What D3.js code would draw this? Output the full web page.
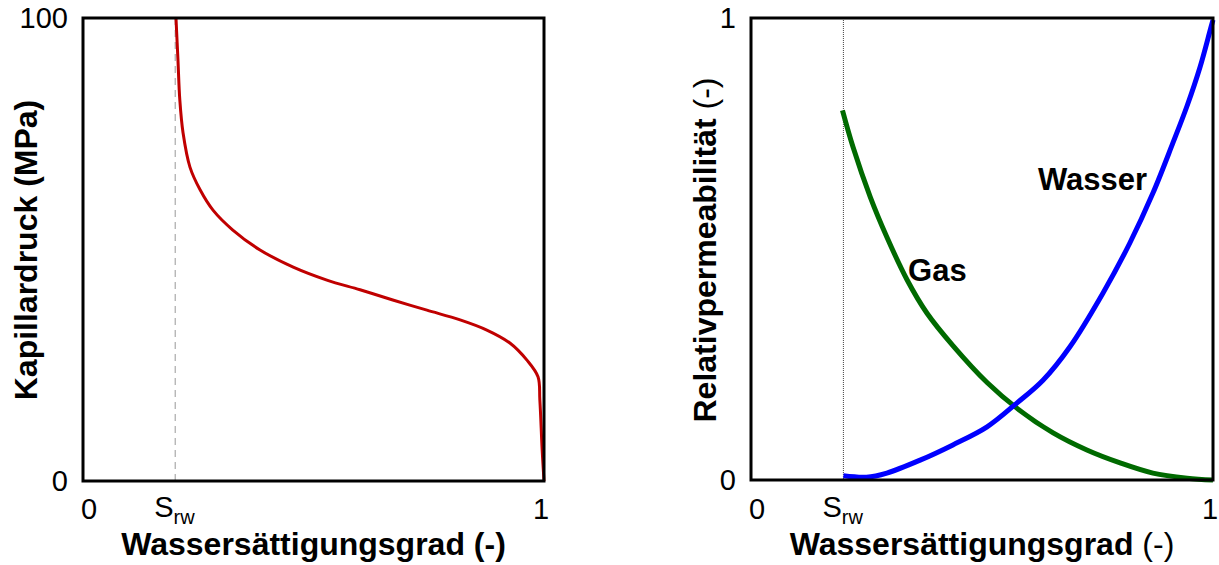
<!DOCTYPE html>
<html>
<head>
<meta charset="utf-8">
<script src="https://cdn.jsdelivr.net/npm/d3@7"></script>
<style>
  html, body { margin: 0; padding: 0; background: #fff; }
  text { font-family: "Liberation Sans", Arial, sans-serif; fill: #000; }
</style>
</head>
<body>
<svg id="chart" width="1219" height="565"></svg>
<script>
// residual water saturation
const srw = 0.2;

// capillary pressure curve (left)
const capSw = [0.2017, 0.206, 0.21, 0.217, 0.232, 0.254, 0.282, 0.325, 0.384, 0.456, 0.529, 0.601, 0.672, 0.746, 0.818, 0.876, 0.926, 0.963, 0.987, 0.991, 0.996, 1.0];
const capPc = [100, 90.9, 82.3, 75.2, 67.8, 62.9, 58.5, 54.2, 49.9, 46.2, 43.4, 41.3, 39.1, 36.9, 34.8, 32.6, 29.8, 26.1, 22.5, 17.5, 6.7, 0];

// relative permeability curves (right)
const gasSw = [0.198, 0.221, 0.258, 0.294, 0.338, 0.381, 0.437, 0.511, 0.576, 0.654, 0.727, 0.799, 0.870, 0.944, 1.0];
const gasKr = [0.80, 0.72, 0.613, 0.526, 0.433, 0.361, 0.291, 0.211, 0.155, 0.102, 0.065, 0.037, 0.015, 0.004, 0.0];
const waterSw = [0.2, 0.25, 0.294, 0.366, 0.437, 0.511, 0.576, 0.632, 0.69, 0.762, 0.820, 0.870, 0.913, 0.944, 0.972, 0.994, 1.0];
const waterKr = [0.009, 0.006, 0.015, 0.043, 0.076, 0.115, 0.167, 0.216, 0.288, 0.405, 0.513, 0.621, 0.729, 0.81, 0.894, 0.974, 0.996];

// tick labels
const leftYTicks = [[0, '0'], [100, '100']];
const rightYTicks = [[0, '0'], [1, '1']];
const xTicks = [[0, '0'], [1, '1']];

const svg = d3.select('#chart');

function panel(box, yMax, yTicks, yTitle, yTitleExtra, xTitleBold) {
  const x = d3.scaleLinear().domain([0, 1]).range([box.x0, box.x1]);
  const y = d3.scaleLinear().domain([0, yMax]).range([box.y1, box.y0]);
  const g = svg.append('g');

  // y tick labels
  g.selectAll('.ytick')
    .data(yTicks)
    .join('text')
    .attr('x', box.x0 - 15)
    .attr('y', d => y(d[0]))
    .attr('dy', '0.36em')
    .attr('text-anchor', 'end')
    .attr('font-size', 29)
    .text(d => d[1]);

  // x tick labels
  g.selectAll('.xtick')
    .data(xTicks)
    .join('text')
    .attr('x', d => x(d[0]) + (d[0] === 0 ? 6 : -3))
    .attr('y', 519)
    .attr('text-anchor', 'middle')
    .attr('font-size', 29)
    .text(d => d[1]);

  const sLabel = g.append('text')
    .attr('x', x(srw) - 21)
    .attr('y', 517)
    .attr('font-size', 29);
  sLabel.append('tspan').text('S');
  sLabel.append('tspan').attr('font-size', 20).attr('dy', 7).text('rw');

  // x title
  const xt = g.append('text')
    .attr('x', (box.x0 + box.x1) / 2)
    .attr('y', 555)
    .attr('text-anchor', 'middle')
    .attr('font-size', 32)
    .attr('font-weight', 'bold');
  xt.append('tspan').text('Wassersättigungsgrad');
  xt.append('tspan').attr('font-weight', xTitleBold ? 'bold' : 'normal').text(' (-)');

  // y title
  const yt = g.append('text')
    .attr('transform', `translate(${box.yTitleX},${box.yTitleY}) rotate(-90)`)
    .attr('text-anchor', 'middle')
    .attr('font-size', 32)
    .attr('font-weight', 'bold');
  yt.append('tspan').text(yTitle);
  yt.append('tspan').attr('font-weight', yTitleExtra.bold ? 'bold' : 'normal').text(yTitleExtra.text);

  return { g, x, y };
}

// left panel: capillary pressure
const L = panel({ x0: 83, x1: 544, y0: 18, y1: 481, yTitleX: 37, yTitleY: 250 },
  100, leftYTicks, 'Kapillardruck', { text: ' (MPa)', bold: true }, true);

L.g.append('line')
  .attr('x1', L.x(srw)).attr('x2', L.x(srw))
  .attr('y1', L.y(100)).attr('y2', L.y(0))
  .attr('stroke', '#999').attr('stroke-width', 1)
  .attr('stroke-dasharray', '7,5');

L.g.append('path')
  .datum(d3.zip(capSw, capPc))
  .attr('fill', 'none')
  .attr('stroke', '#c00000')
  .attr('stroke-width', 3)
  .attr('d', d3.line().x(d => L.x(d[0])).y(d => L.y(d[1])).curve(d3.curveCatmullRom.alpha(0.5)));

L.g.append('rect')
  .attr('x', L.x(0)).attr('y', L.y(100))
  .attr('width', L.x(1) - L.x(0)).attr('height', L.y(0) - L.y(100))
  .attr('fill', 'none').attr('stroke', '#000').attr('stroke-width', 3);

// right panel: relative permeability
const R = panel({ x0: 751, x1: 1213, y0: 18, y1: 480, yTitleX: 716, yTitleY: 250 },
  1, rightYTicks, 'Relativpermeabilität', { text: ' (-)', bold: false }, false);

R.g.append('line')
  .attr('x1', R.x(srw)).attr('x2', R.x(srw))
  .attr('y1', R.y(1)).attr('y2', R.y(0))
  .attr('stroke', '#444').attr('stroke-width', 1)
  .attr('stroke-dasharray', '1,1');

const krLine = d3.line().x(d => R.x(d[0])).y(d => R.y(d[1])).curve(d3.curveCatmullRom.alpha(0.5));

R.g.append('path')
  .datum(d3.zip(gasSw, gasKr))
  .attr('fill', 'none')
  .attr('stroke', '#006a00')
  .attr('stroke-width', 5)
  .attr('d', krLine);

R.g.append('path')
  .datum(d3.zip(waterSw, waterKr))
  .attr('fill', 'none')
  .attr('stroke', '#0000ff')
  .attr('stroke-width', 5)
  .attr('d', krLine);

R.g.append('text')
  .attr('x', R.x(0.34)).attr('y', R.y(0.43))
  .attr('font-size', 31).attr('font-weight', 'bold')
  .text('Gas');

R.g.append('text')
  .attr('x', R.x(0.621)).attr('y', R.y(0.628))
  .attr('font-size', 31).attr('font-weight', 'bold')
  .text('Wasser');

R.g.append('rect')
  .attr('x', R.x(0)).attr('y', R.y(1))
  .attr('width', R.x(1) - R.x(0)).attr('height', R.y(0) - R.y(1))
  .attr('fill', 'none').attr('stroke', '#000').attr('stroke-width', 3);
</script>
</body>
</html>
